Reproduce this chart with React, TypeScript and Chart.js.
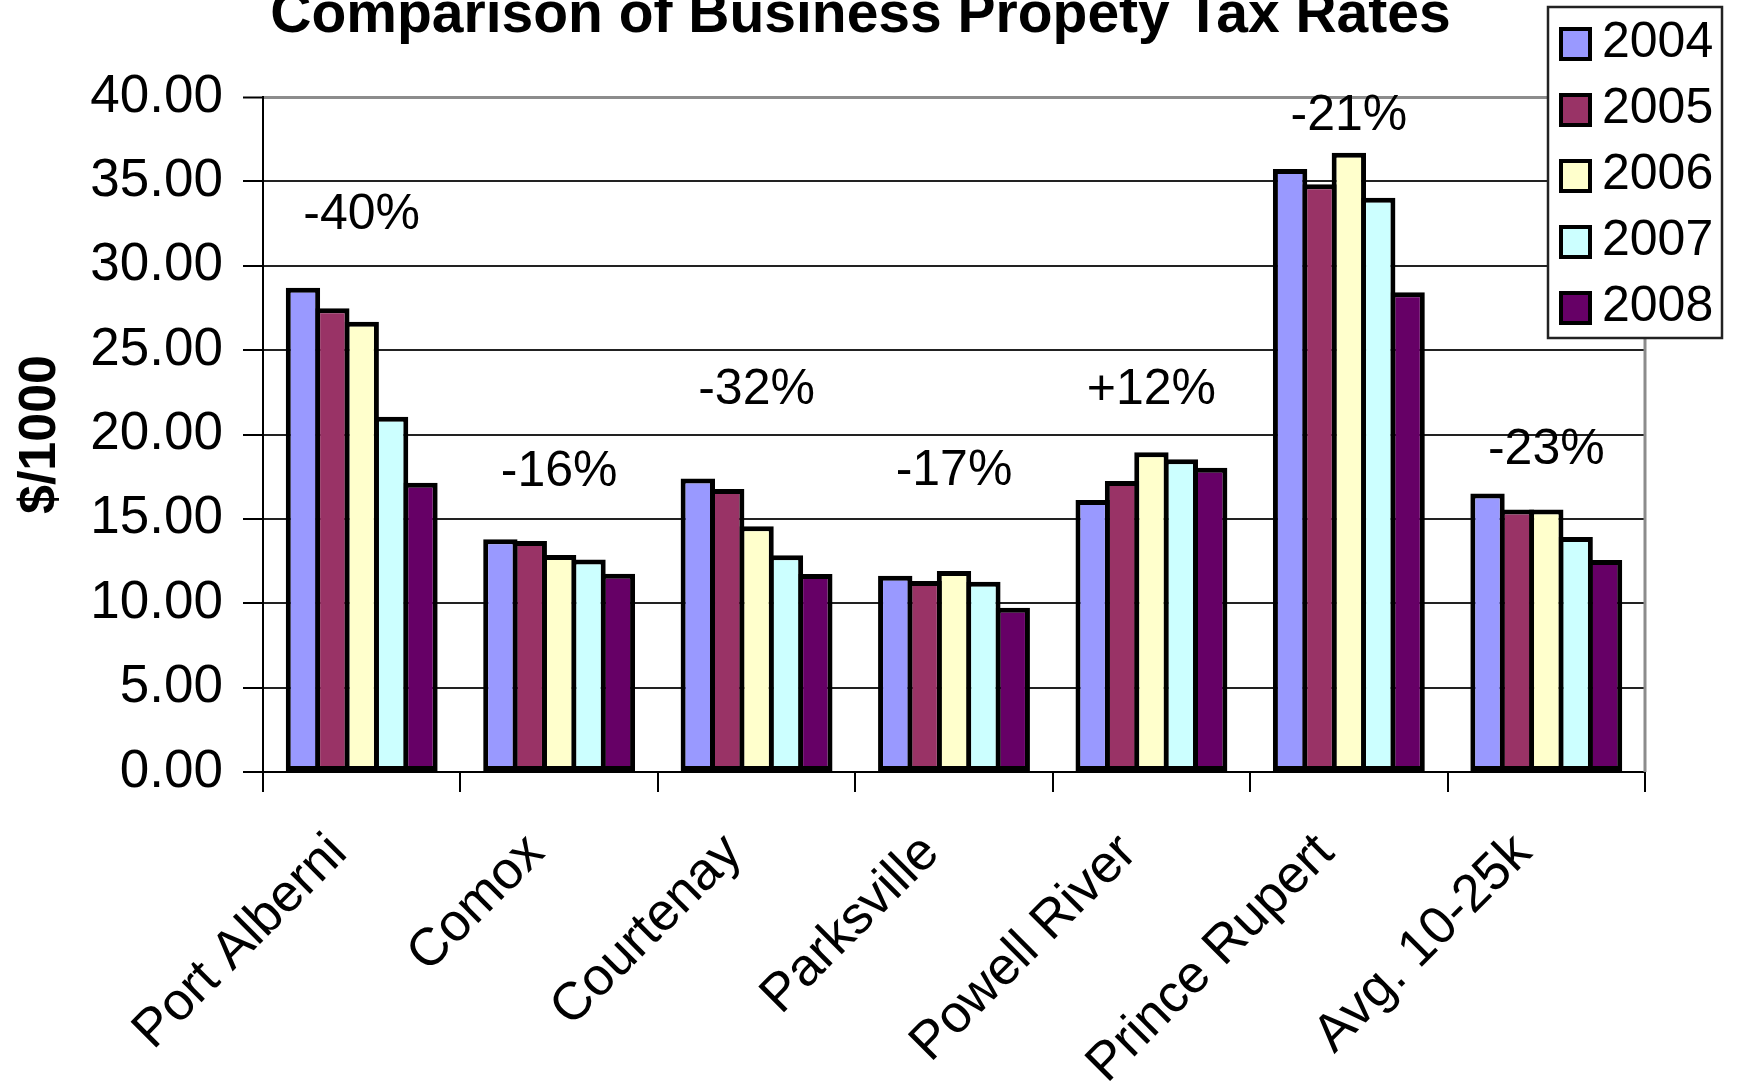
import React, { useEffect, useRef } from 'react';
import { Chart, registerables } from 'chart.js';

Chart.register(...registerables);

const FONT = "'Liberation Sans', Arial, Helvetica, sans-serif";

const categories = ['Port Alberni', 'Comox', 'Courtenay', 'Parksville', 'Powell River', 'Prince Rupert', 'Avg. 10-25k'];
const years = ['2004', '2005', '2006', '2007', '2008'];
const values2004 = [28.7, 13.8, 17.4, 11.63, 16.12, 35.73, 16.5];
const values2005 = [27.48, 13.69, 16.77, 11.32, 17.24, 34.83, 15.55];
const values2006 = [26.68, 12.86, 14.57, 11.91, 18.95, 36.7, 15.55];
const values2007 = [21.05, 12.6, 12.84, 11.28, 18.53, 34.03, 13.93];
const values2008 = [17.14, 11.75, 11.73, 9.74, 18.03, 28.43, 12.56];
const seriesValues = [values2004, values2005, values2006, values2007, values2008];
const seriesColors = ['#9999FF', '#993366', '#FFFFCC', '#CCFFFF', '#660066'];
const changeLabels = ['-40%', '-16%', '-32%', '-17%', '+12%', '-21%', '-23%'];
const changeLabelY = [33.0, 17.75, 22.65, 17.8, 22.65, 38.85, 19.05];
const yMin = 0;
const yMax = 40;
const yStep = 5;
const titleText = 'Comparison of Business Propety Tax Rates';
const yAxisTitle = '$/1000';

const decorPlugin = {
  id: 'decor',
  afterDraw(chart: any) {
    const ctx = chart.ctx as CanvasRenderingContext2D;
    const { top, bottom, right } = chart.chartArea;
    const xs = chart.scales.x;
    const ys = chart.scales.y;
    ctx.save();
    // plot area right border
    ctx.strokeStyle = '#8c8c8c';
    ctx.lineWidth = 3;
    ctx.beginPath();
    ctx.moveTo(right, top - 1.5);
    ctx.lineTo(right, bottom);
    ctx.stroke();

    // change labels
    ctx.fillStyle = '#000';
    ctx.font = `50px ${FONT}`;
    ctx.textAlign = 'center';
    ctx.textBaseline = 'middle';
    changeLabels.forEach((t, i) => {
      ctx.fillText(t, xs.getPixelForValue(i), ys.getPixelForValue(changeLabelY[i]));
    });

    // title
    ctx.font = `bold 57px ${FONT}`;
    ctx.textBaseline = 'alphabetic';
    ctx.textAlign = 'center';
    ctx.fillText(titleText, chart.width / 2 - 8, 32);

    // legend
    const lw = 174;
    const lh = 331;
    const lx = chart.width - 189;
    const ly = 7;
    ctx.fillStyle = '#fff';
    ctx.fillRect(lx, ly, lw, lh);
    ctx.strokeStyle = '#222';
    ctx.lineWidth = 2.5;
    ctx.strokeRect(lx, ly, lw, lh);
    chart.data.datasets.forEach((ds: any, i: number) => {
      const cy = ly + 37 + i * 66;
      ctx.fillStyle = ds.backgroundColor;
      ctx.fillRect(lx + 13, cy - 15, 29, 30);
      ctx.lineWidth = 4;
      ctx.strokeStyle = '#000';
      ctx.strokeRect(lx + 13, cy - 15, 29, 30);
      ctx.fillStyle = '#000';
      ctx.font = `50px ${FONT}`;
      ctx.textAlign = 'left';
      ctx.textBaseline = 'middle';
      ctx.fillText(ds.label, lx + 54, cy - 1);
    });
    ctx.restore();
  },
};

export default function App() {
  const ref = useRef<HTMLCanvasElement | null>(null);

  useEffect(() => {
    if (!ref.current) return;
    const chart = new Chart(ref.current, {
      type: 'bar',
      data: {
        labels: categories,
        datasets: years.map((y, i) => ({
          label: y,
          data: seriesValues[i],
          backgroundColor: seriesColors[i],
          borderColor: '#000',
          borderWidth: 5,
          borderSkipped: false,
          categoryPercentage: 0.744,
          barPercentage: 1.17,
        })),
      },
      options: {
        responsive: false,
        animation: false,
        layout: { padding: { top: 97, right: 92, bottom: 0, left: 0 } },
        plugins: {
          legend: { display: false },
          title: { display: false },
          tooltip: { enabled: false },
        },
        scales: {
          x: {
            afterFit: (scale: any) => {
              scale.height = 320;
            },
            grid: {
              display: true,
              drawOnChartArea: false,
              drawTicks: true,
              tickLength: 20,
              color: '#000',
              lineWidth: 2,
              offset: true,
            },
            border: { display: true, color: '#000', width: 2 },
            ticks: {
              color: '#000',
              font: { family: FONT, size: 53 },
              minRotation: 45,
              maxRotation: 45,
              autoSkip: false,
              padding: 30,
              labelOffset: -23,
            },
          },
          y: {
            min: yMin,
            max: yMax,
            afterFit: (scale: any) => {
              scale.width = 263;
            },
            grid: {
              color: (c: any) => (c.tick && c.tick.value === yMax ? '#8c8c8c' : '#222'),
              lineWidth: (c: any) => (c.tick && c.tick.value === yMax ? 3 : 2),
              tickColor: '#000',
              tickWidth: 2,
              tickLength: 20,
              drawTicks: true,
            },
            border: { display: true, color: '#000', width: 2 },
            ticks: {
              stepSize: yStep,
              color: '#000',
              font: { family: FONT, size: 53 },
              padding: 20,
              callback: (v: any) => Number(v).toFixed(2),
            },
            title: {
              display: true,
              text: yAxisTitle,
              color: '#000',
              font: { family: FONT, size: 52, weight: 'bold' },
              padding: { top: 9, bottom: 0 },
            },
          },
        },
      },
      plugins: [decorPlugin],
    });
    return () => chart.destroy();
  }, []);

  return (
    <div style={{ position: 'fixed', left: 0, top: 0, width: 1737, height: 1092, background: '#fff' }}>
      <canvas ref={ref} width={1737} height={1092} style={{ display: 'block' }} />
    </div>
  );
}
